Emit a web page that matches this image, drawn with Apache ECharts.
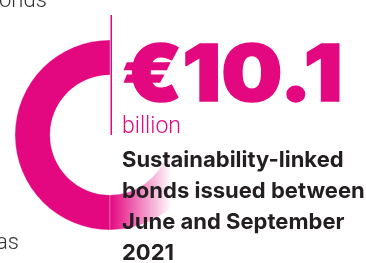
<!DOCTYPE html>
<html lang="en">
<head>
    <meta charset="UTF-8">
    <title>Sustainability-linked bonds</title>
    <script src="https://cdn.jsdelivr.net/npm/echarts@6/dist/echarts.min.js"></script>
    <style>
        html, body { margin: 0; padding: 0; background: #fff; }
        #main { width: 366px; height: 263px; }
    </style>
</head>
<body>
    <div id="main"></div>
    <script>
        // ring segments: solid share, faded tail, empty rest
        var ringNames = ['issued', 'fade', 'rest'];
        var ringValues = [50, 20, 30];
        var headline = '€10.1';
        var unit = 'billion';
        var captionLines = ['Sustainability-linked', 'bonds issued between', 'June and September', '2021'];
        var sideTexts = ['onds', 'as'];

        var pink = '#e3087f';
        var myChart = echarts.init(document.getElementById('main'));

        var fade = new echarts.graphic.LinearGradient(110, 0, 172, 0, [
            { offset: 0, color: pink },
            { offset: 1, color: 'rgba(227,8,127,0)' }
        ], true);
        var colors = [pink, fade, 'rgba(0,0,0,0)'];

        var captions = captionLines.map(function (t, i) {
            return {
                type: 'text', left: 122, top: 149 + i * 31, z: 10,
                style: { text: t, fill: '#231f20', font: '700 22px Inter' }
            };
        });

        myChart.setOption({
            animation: false,
            series: [{
                type: 'pie',
                silent: true,
                center: [110, 135],
                radius: [60, 95],
                startAngle: 90,
                clockwise: false,
                label: { show: false },
                labelLine: { show: false },
                emphasis: { disabled: true },
                data: ringValues.map(function (v, i) {
                    return {
                        name: ringNames[i], value: v,
                        itemStyle: { color: colors[i], borderColor: 'rgba(255,255,255,0.6)', borderWidth: i === 2 ? 0 : 0.5 }
                    };
                })
            }],
            graphic: [
                // thin divider next to the headline
                { type: 'rect', z: 10, shape: { x: 110.5, y: 15, width: 1.5, height: 120 }, style: { fill: pink } },
                {
                    type: 'text', x: 122, y: 38, scaleX: 1.09, z: 10,
                    style: { text: headline, fill: pink, stroke: pink, lineWidth: 1.5, font: '900 79px Inter', verticalAlign: 'top' }
                },
                { type: 'text', left: 122, top: 116, z: 10, style: { text: unit, fill: pink, font: '300 23px Roboto' } },
                { type: 'text', left: -1, top: -10, z: 10, style: { text: sideTexts[0], fill: '#333', font: '300 22px Roboto' } },
                { type: 'text', left: -4, top: 232, z: 10, style: { text: sideTexts[1], fill: '#333', font: '300 22px Roboto' } }
            ].concat(captions)
        });
    </script>
</body>
</html>
